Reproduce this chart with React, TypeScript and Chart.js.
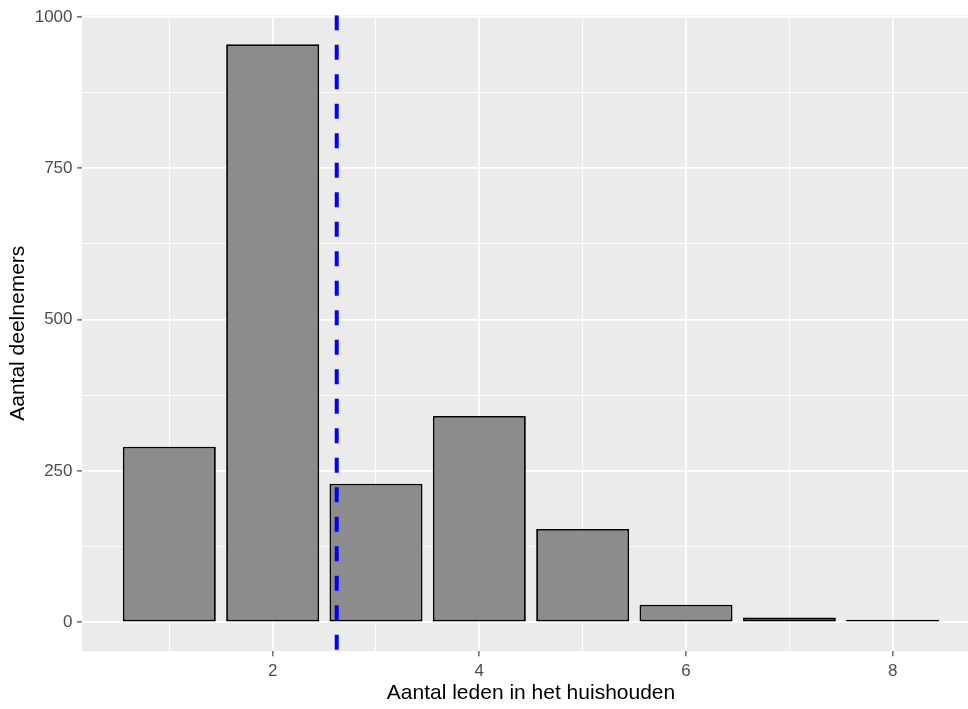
import React, { useEffect, useRef } from "react";
import { Chart, registerables } from "chart.js";

Chart.register(...registerables);

// Data
const householdSizes = [1, 2, 3, 4, 5, 6, 7, 8];
const participantCounts = [290, 955, 229, 341, 154, 29, 8, 1];
const meanHouseholdSize = 2.62;
const xTickLabels = [2, 4, 6, 8];
const yTickLabels = [0, 250, 500, 750, 1000];
const xGridValues = [1, 2, 3, 4, 5, 6, 7, 8];
const yGridValues = [0, 125, 250, 375, 500, 625, 750, 875, 1000];

const xTitle = "Aantal leden in het huishouden";
const yTitle = "Aantal deelnemers";

const FONT = "'Liberation Sans', Arial, Helvetica, sans-serif";

export default function App() {
  const canvasRef = useRef<HTMLCanvasElement | null>(null);

  useEffect(() => {
    const canvas = canvasRef.current;
    if (!canvas) return;

    const maxCount = Math.max(...participantCounts);
    const yMin = -0.05 * maxCount;
    const yMax = maxCount * 1.05;
    const xMin = 1 - 0.45 - 0.05 * 7.9;
    const xMax = 8 + 0.45 + 0.05 * 7.9;

    const panelBg = {
      id: "panelBg",
      beforeDraw(chart: any) {
        const { ctx, chartArea } = chart;
        ctx.save();
        ctx.fillStyle = "#EBEBEB";
        ctx.fillRect(
          chartArea.left,
          chartArea.top,
          chartArea.right - chartArea.left,
          chartArea.bottom - chartArea.top
        );
        ctx.restore();
      },
    };

    const chart = new Chart(canvas, {
      type: "bar",
      data: {
        datasets: [
          {
            type: "line",
            data: [
              { x: meanHouseholdSize, y: yMax },
              { x: meanHouseholdSize, y: yMin },
            ],
            borderColor: "#0000FF",
            borderWidth: 4,
            borderDash: [15, 14.5],
            pointRadius: 0,
            fill: false,
            order: 0,
          } as any,
          {
            type: "bar",
            data: householdSizes.map((x, i) => ({ x, y: participantCounts[i] })),
            backgroundColor: "#8C8C8C",
            borderColor: "#000000",
            borderWidth: 1.8,
            borderSkipped: false,
            barPercentage: 0.9,
            categoryPercentage: 1,
            minBarLength: 2.5,
            order: 1,
          } as any,
        ],
      },
      options: {
        animation: false,
        responsive: false,
        devicePixelRatio: 1,
        layout: { padding: { top: 15.3, right: 0, bottom: 0, left: 0 } },
        plugins: {
          legend: { display: false },
          tooltip: { enabled: false },
        },
        scales: {
          x: {
            type: "linear",
            min: xMin,
            max: xMax,
            offset: false,
            border: { display: false },
            afterBuildTicks: (scale: any) => {
              scale.ticks = xGridValues.map((v) => ({ value: v }));
            },
            afterFit: (scale: any) => {
              scale.height = 57.8;
            },
            grid: {
              offset: false,
              color: "#FFFFFF",
              lineWidth: (c: any) =>
                xTickLabels.includes(c.tick?.value) ? 1.8 : 0.9,
              tickColor: (c: any) =>
                xTickLabels.includes(c.tick?.value) ? "#333333" : "rgba(0,0,0,0)",
              tickLength: 5,
              tickWidth: 1.1,
            },
            ticks: {
              autoSkip: false,
              maxRotation: 0,
              padding: 5,
              color: "#4D4D4D",
              font: { family: FONT, size: 17 },
              callback: (v: any) => (xTickLabels.includes(Number(v)) ? String(v) : ""),
            },
            title: {
              display: true,
              text: xTitle,
              color: "#000000",
              font: { family: FONT, size: 21 },
              padding: { top: 0, bottom: 3 },
            },
          },
          y: {
            type: "linear",
            min: yMin,
            max: yMax,
            border: { display: false },
            afterBuildTicks: (scale: any) => {
              scale.ticks = yGridValues.map((v) => ({ value: v }));
            },
            afterFit: (scale: any) => {
              scale.width = 82;
            },
            grid: {
              color: "#FFFFFF",
              lineWidth: (c: any) =>
                yTickLabels.includes(c.tick?.value) ? 1.8 : 0.9,
              tickColor: (c: any) =>
                yTickLabels.includes(c.tick?.value) ? "#333333" : "rgba(0,0,0,0)",
              tickLength: 5,
              tickWidth: 1.1,
            },
            ticks: {
              autoSkip: false,
              padding: 4.5,
              color: "#4D4D4D",
              font: { family: FONT, size: 17 },
              callback: (v: any) => (yTickLabels.includes(Number(v)) ? String(v) : ""),
            },
            title: {
              display: true,
              text: yTitle,
              color: "#000000",
              font: { family: FONT, size: 21 },
              padding: { top: 6, bottom: 0 },
            },
          },
        },
      } as any,
      plugins: [panelBg],
    });

    return () => chart.destroy();
  }, []);

  return (
    <div
      style={{
        position: "absolute",
        left: 0,
        top: 0,
        width: 968,
        height: 709,
        overflow: "hidden",
        background: "#FFFFFF",
      }}
    >
      <canvas ref={canvasRef} width={980} height={709} style={{ display: "block" }} />
    </div>
  );
}
